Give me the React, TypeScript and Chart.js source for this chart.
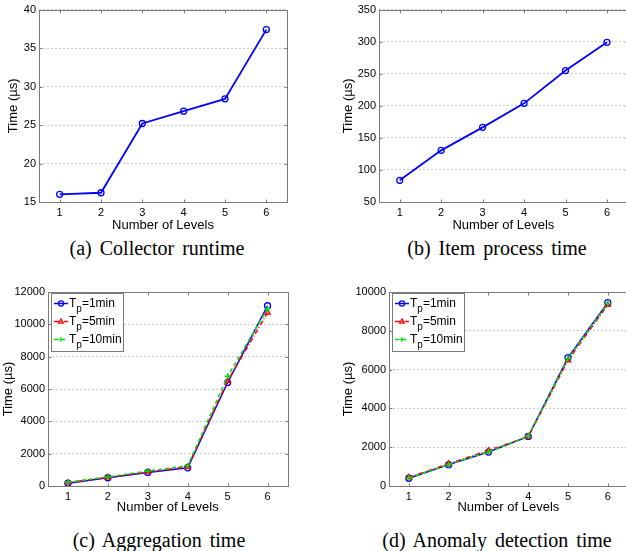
import React, { useEffect, useRef } from "react";
import { Chart, registerables } from "chart.js";

Chart.register(...registerables);

// ---------- data ----------
const LEVELS = [1, 2, 3, 4, 5, 6];

const COLLECTOR_RUNTIME = [16.0, 16.2, 25.2, 26.8, 28.4, 37.4];
const ITEM_PROCESS_TIME = [83.8, 130.5, 166.4, 203.8, 255.0, 299.0];

const AGG_TP1 = [170, 510, 840, 1130, 6400, 11150];
const AGG_TP5 = [205, 535, 865, 1190, 6500, 10720];
const AGG_TP10 = [245, 560, 925, 1255, 6790, 10970];

const ANOM_TP1 = [400, 1100, 1750, 2555, 6620, 9450];
const ANOM_TP5 = [445, 1150, 1830, 2540, 6480, 9340];
const ANOM_TP10 = [410, 1110, 1760, 2560, 6570, 9400];

const TICKS_A = [15, 20, 25, 30, 35, 40];
const TICKS_B = [50, 100, 150, 200, 250, 300, 350];
const TICKS_C = [0, 2000, 4000, 6000, 8000, 10000, 12000];
const TICKS_D = [0, 2000, 4000, 6000, 8000, 10000];

const X_TITLE = "Number of Levels";
const Y_TITLE = "Time (µs)";
const LEGEND_MAIN = "T";
const LEGEND_SUB = "p";
const LEGEND_REST = ["=1min", "=5min", "=10min"];
const CAPTIONS = [
  "(a) Collector runtime",
  "(b) Item process time",
  "(c) Aggregation time",
  "(d) Anomaly detection time",
];

// ---------- styles ----------
const SANS = "'Liberation Sans', Arial, Helvetica, sans-serif";
const SERIF = "'Liberation Serif', 'Times New Roman', serif";
const TICK_SIZE = 11;
const TITLE_SIZE = 13;
const AXIS_COLOR = "#7a7a7a";

const STYLE_1 = { color: "#0000ff", dash: [] as number[], point: "circle", order: 2 };
const STYLE_5 = { color: "#ff0000", dash: [5, 2, 1, 2], point: "triangle", order: 1 };
const STYLE_10 = { color: "#00e000", dash: [4, 3], point: "cross", order: 0 };

type Series = { values: number[]; style: typeof STYLE_1; legend?: string };
type PanelCfg = {
  box: { left: number; top: number; w: number; h: number };
  area: { l: number; r: number; t: number; b: number };
  yTitleX: number;
  xTitleY: number;
  yTicks: number[];
  series: Series[];
  legend: boolean;
  lineWidth: number;
};

const PANELS: PanelCfg[] = [
  {
    box: { left: 0, top: 0, w: 313, h: 236 },
    area: { l: 39, r: 287, t: 7, b: 202 },
    yTitleX: 13,
    xTitleY: 225,
    yTicks: TICKS_A,
    series: [{ values: COLLECTOR_RUNTIME, style: STYLE_1 }],
    legend: false,
    lineWidth: 1.8,
  },
  {
    box: { left: 313, top: 0, w: 320, h: 236 },
    area: { l: 379, r: 628, t: 7, b: 202 },
    yTitleX: 348,
    xTitleY: 225,
    yTicks: TICKS_B,
    series: [{ values: ITEM_PROCESS_TIME, style: STYLE_1 }],
    legend: false,
    lineWidth: 1.8,
  },
  {
    box: { left: 0, top: 270, w: 313, h: 246 },
    area: { l: 48, r: 287.5, t: 292, b: 486 },
    yTitleX: 8,
    xTitleY: 507,
    yTicks: TICKS_C,
    series: [
      { values: AGG_TP1, style: STYLE_1, legend: LEGEND_REST[0] },
      { values: AGG_TP5, style: STYLE_5, legend: LEGEND_REST[1] },
      { values: AGG_TP10, style: STYLE_10, legend: LEGEND_REST[2] },
    ],
    legend: true,
    lineWidth: 1.5,
  },
  {
    box: { left: 313, top: 270, w: 320, h: 246 },
    area: { l: 389, r: 628, t: 292, b: 486 },
    yTitleX: 348,
    xTitleY: 507,
    yTicks: TICKS_D,
    series: [
      { values: ANOM_TP1, style: STYLE_1, legend: LEGEND_REST[0] },
      { values: ANOM_TP5, style: STYLE_5, legend: LEGEND_REST[1] },
      { values: ANOM_TP10, style: STYLE_10, legend: LEGEND_REST[2] },
    ],
    legend: true,
    lineWidth: 1.5,
  },
];

const CAPTION_POS = [
  { cx: 157, top: 238 },
  { cx: 497, top: 238 },
  { cx: 159, top: 530 },
  { cx: 497, top: 530 },
];

// ---------- plugins ----------
const framePlugin = {
  id: "matlabFrame",
  afterDatasetsDraw(chart: any) {
    const { ctx, chartArea, scales } = chart;
    const { left, right, top, bottom } = chartArea;
    const L = Math.round(left) + 0.5;
    const R = Math.round(right) + 0.5;
    const T = Math.round(top) + 0.5;
    const B = Math.round(bottom) + 0.5;
    ctx.save();
    ctx.strokeStyle = AXIS_COLOR;
    ctx.lineWidth = 1;
    ctx.setLineDash([]);
    ctx.strokeRect(L, T, R - L, B - T);
    const tl = 3;
    ctx.beginPath();
    scales.x.ticks.forEach((t: any) => {
      const px = Math.round(scales.x.getPixelForValue(t.value)) + 0.5;
      ctx.moveTo(px, B);
      ctx.lineTo(px, B - tl);
      ctx.moveTo(px, T);
      ctx.lineTo(px, T + tl);
    });
    scales.y.ticks.forEach((t: any) => {
      const py = Math.round(scales.y.getPixelForValue(t.value)) + 0.5;
      ctx.moveTo(L, py);
      ctx.lineTo(L + tl, py);
      ctx.moveTo(R, py);
      ctx.lineTo(R - tl, py);
    });
    ctx.stroke();
    ctx.restore();
  },
};

function drawMarker(ctx: CanvasRenderingContext2D, style: string, x: number, y: number, r: number) {
  ctx.beginPath();
  if (style === "circle") {
    ctx.arc(x, y, r, 0, Math.PI * 2);
  } else if (style === "triangle") {
    ctx.moveTo(x, y - r);
    ctx.lineTo(x + r * 0.9, y + r * 0.6);
    ctx.lineTo(x - r * 0.9, y + r * 0.6);
    ctx.closePath();
  } else {
    ctx.moveTo(x - r, y);
    ctx.lineTo(x + r, y);
    ctx.moveTo(x, y - r);
    ctx.lineTo(x, y + r);
  }
  ctx.stroke();
}

const legendPlugin = {
  id: "matlabLegend",
  afterDraw(chart: any) {
    const cfg: PanelCfg = chart.options.plugins.matlabLegendCfg;
    if (!cfg || !cfg.legend) return;
    const { ctx, chartArea } = chart;
    const x0 = Math.round(chartArea.left) + 3;
    const y0 = Math.round(chartArea.top) + 1;
    const w = 72;
    const h = 58;
    ctx.save();
    ctx.fillStyle = "#ffffff";
    ctx.fillRect(x0, y0, w, h);
    ctx.strokeStyle = AXIS_COLOR;
    ctx.lineWidth = 1;
    ctx.setLineDash([]);
    ctx.strokeRect(x0 + 0.5, y0 + 0.5, w, h);
    cfg.series.forEach((s, i) => {
      const cy = y0 + 10 + i * 18;
      ctx.strokeStyle = s.style.color;
      ctx.lineWidth = 1.5;
      ctx.setLineDash(s.style.dash);
      ctx.beginPath();
      ctx.moveTo(x0 + 3, cy + 0.5);
      ctx.lineTo(x0 + 17, cy + 0.5);
      ctx.stroke();
      ctx.setLineDash([]);
      ctx.lineWidth = 1.2;
      drawMarker(ctx, s.style.point, x0 + 10, cy + 0.5, 2.6);
      ctx.fillStyle = "#000";
      ctx.textBaseline = "alphabetic";
      ctx.textAlign = "left";
      let tx = x0 + 18;
      ctx.font = `12px ${SANS}`;
      ctx.fillText(LEGEND_MAIN, tx, cy + 4);
      tx += ctx.measureText(LEGEND_MAIN).width;
      ctx.font = `10px ${SANS}`;
      ctx.fillText(LEGEND_SUB, tx, cy + 9);
      tx += ctx.measureText(LEGEND_SUB).width;
      ctx.font = `12px ${SANS}`;
      ctx.fillText(s.legend || "", tx, cy + 4);
    });
    ctx.restore();
  },
};

// ---------- components ----------
function Panel({ cfg }: { cfg: PanelCfg }) {
  const ref = useRef<HTMLCanvasElement>(null);
  useEffect(() => {
    if (!ref.current) return;
    const lh = TITLE_SIZE * 1.2;
    const { box, area } = cfg;
    const padLeft = cfg.yTitleX - lh / 2 - box.left;
    const padTop = area.t - box.top;
    const padRight = box.left + box.w - area.r;
    const padBottom = box.top + box.h - (cfg.xTitleY + lh / 2);
    const yWidth = area.l - box.left - padLeft;
    const xHeight = box.top + box.h - padBottom - area.b;
    const yMin = cfg.yTicks[0];
    const yMax = cfg.yTicks[cfg.yTicks.length - 1];

    const chart = new Chart(ref.current, {
      type: "line",
      data: {
        datasets: cfg.series.map((s) => ({
          label: s.legend || "",
          data: LEVELS.map((x, i) => ({ x, y: s.values[i] })),
          borderColor: s.style.color,
          borderWidth: cfg.lineWidth,
          borderDash: s.style.dash,
          pointStyle: s.style.point,
          pointRadius: 3,
          pointBorderWidth: 1.3,
          pointBorderColor: s.style.color,
          pointBackgroundColor: "rgba(0,0,0,0)",
          tension: 0,
          fill: false,
          order: s.style.order,
        })),
      },
      options: {
        responsive: false,
        animation: false,
        devicePixelRatio: 1,
        layout: { padding: { left: padLeft, top: padTop, right: padRight, bottom: padBottom } },
        plugins: {
          legend: { display: false },
          tooltip: { enabled: false },
          matlabLegendCfg: cfg,
        } as any,
        scales: {
          x: {
            type: "linear",
            min: 0.5,
            max: 6.5,
            afterBuildTicks: (s: any) => {
              s.ticks = LEVELS.map((v) => ({ value: v }));
            },
            afterFit: (s: any) => {
              s.height = xHeight;
            },
            grid: { display: false, drawTicks: false },
            border: { display: false },
            ticks: {
              padding: 4,
              color: "#000",
              font: { family: SANS, size: TICK_SIZE },
              maxRotation: 0,
              autoSkip: false,
              callback: (v: any) => String(v),
            },
            title: {
              display: true,
              text: X_TITLE,
              color: "#000",
              font: { family: SANS, size: TITLE_SIZE },
              padding: 0,
            },
          },
          y: {
            type: "linear",
            min: yMin,
            max: yMax,
            afterBuildTicks: (s: any) => {
              s.ticks = cfg.yTicks.map((v) => ({ value: v }));
            },
            afterFit: (s: any) => {
              s.width = yWidth;
            },
            grid: { color: "#c8c8c8", lineWidth: 1, drawTicks: false },
            border: { display: false, dash: [2, 2] },
            ticks: {
              padding: 3,
              color: "#000",
              font: { family: SANS, size: TICK_SIZE },
              autoSkip: false,
              callback: (v: any) => String(v),
            },
            title: {
              display: true,
              text: Y_TITLE,
              color: "#000",
              font: { family: SANS, size: TITLE_SIZE },
              padding: 0,
            },
          },
        },
      } as any,
      plugins: [framePlugin, legendPlugin],
    });
    return () => chart.destroy();
  }, [cfg]);

  return (
    <canvas
      ref={ref}
      width={cfg.box.w}
      height={cfg.box.h}
      style={{
        position: "absolute",
        left: cfg.box.left,
        top: cfg.box.top,
        width: cfg.box.w,
        height: cfg.box.h,
      }}
    />
  );
}

export default function App() {
  return (
    <div
      style={{
        position: "absolute",
        left: 0,
        top: 0,
        width: 626,
        height: 551,
        overflow: "hidden",
        background: "#ffffff",
      }}
    >
      {PANELS.map((p, i) => (
        <Panel key={i} cfg={p} />
      ))}
      {CAPTIONS.map((c, i) => (
        <div
          key={"cap" + i}
          style={{
            position: "absolute",
            left: CAPTION_POS[i].cx - 160,
            top: CAPTION_POS[i].top,
            width: 320,
            textAlign: "center",
            fontFamily: SERIF,
            fontSize: 20,
            lineHeight: "20px",
            wordSpacing: 3,
            whiteSpace: "nowrap",
            color: "#000",
          }}
        >
          {c}
        </div>
      ))}
    </div>
  );
}
